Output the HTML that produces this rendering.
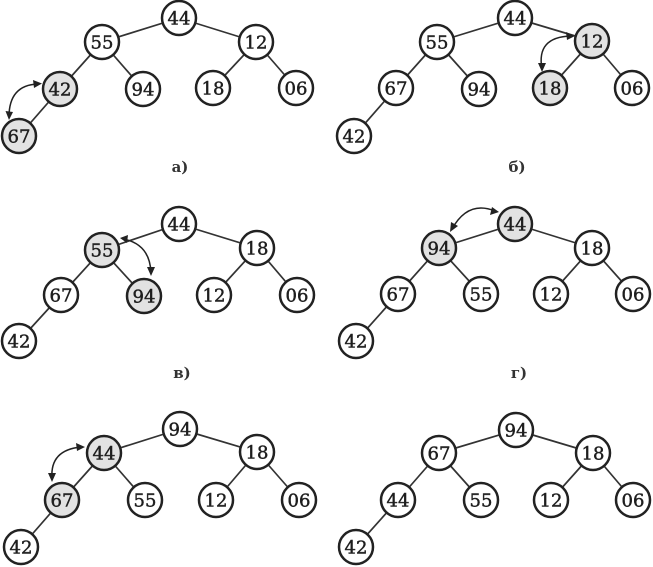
<!DOCTYPE html>
<html><head><meta charset="utf-8"><style>
html,body{margin:0;padding:0;background:#fff;width:653px;height:567px;overflow:hidden}
svg{display:block;filter:blur(.35px)}
line{stroke:#333;stroke-width:1.7}
circle{stroke:#222;stroke-width:2.5;fill:#fff}
circle.g{fill:#e2e2e2}
text{font-family:"DejaVu Serif","Liberation Serif",serif;font-size:18px;fill:#1e1e1e;text-anchor:middle;font-weight:normal;stroke:#1e1e1e;stroke-width:.45}
text.l{font-size:15px;font-weight:bold;stroke:none;fill:#333}
path.a{fill:none;stroke:#222;stroke-width:1.5}
path.h{fill:#222;stroke:none}
</style></head><body>
<svg width="653" height="567" viewBox="0 0 653 567" xmlns="http://www.w3.org/2000/svg">
<!-- a -->
<g>
<line x1="179" y1="18" x2="102" y2="42"/><line x1="179" y1="18" x2="256" y2="42"/><line x1="102" y1="42" x2="60" y2="89"/><line x1="102" y1="42" x2="143" y2="89"/><line x1="256" y1="42" x2="213" y2="88"/><line x1="256" y1="42" x2="296" y2="88"/><line x1="60" y1="89" x2="19" y2="136"/>
<circle cx="179" cy="18" r="17"/><text x="179" y="24.500">44</text>
<circle cx="102" cy="42" r="17"/><text x="102" y="48.500">55</text>
<circle cx="256" cy="42" r="17"/><text x="256" y="48.500">12</text>
<circle class="g" cx="60" cy="89" r="17"/><text x="60" y="95.500">42</text>
<circle cx="143" cy="89" r="17"/><text x="143" y="95.500">94</text>
<circle cx="213" cy="88" r="17"/><text x="213" y="94.500">18</text>
<circle cx="296" cy="88" r="17"/><text x="296" y="94.500">06</text>
<circle class="g" cx="19" cy="136" r="17"/><text x="19" y="142.500">67</text>
<path class="a" d="M38 84 Q9 85 9 117"/>
<path class="h" d="M42 83.500 L33 80 L34 88Z M9 120 L5.500 111 L13 112Z"/>
<text class="l" x="180" y="172">а)</text>
</g>
<!-- b -->
<g>
<line x1="515" y1="18" x2="437" y2="42"/><line x1="515" y1="18" x2="592" y2="41"/><line x1="437" y1="42" x2="396" y2="88"/><line x1="437" y1="42" x2="479" y2="89"/><line x1="592" y1="41" x2="550" y2="88"/><line x1="592" y1="41" x2="632" y2="88"/><line x1="396" y1="88" x2="354" y2="136"/>
<circle cx="515" cy="18" r="17"/><text x="515" y="24.500">44</text>
<circle cx="437" cy="42" r="17"/><text x="437" y="48.500">55</text>
<circle class="g" cx="592" cy="41" r="17"/><text x="592" y="47.500">12</text>
<circle cx="396" cy="88" r="17"/><text x="396" y="94.500">67</text>
<circle cx="479" cy="89" r="17"/><text x="479" y="95.500">94</text>
<circle class="g" cx="550" cy="88" r="17"/><text x="550" y="94.500">18</text>
<circle cx="632" cy="88" r="17"/><text x="632" y="94.500">06</text>
<circle cx="354" cy="136" r="17"/><text x="354" y="142.500">42</text>
<path class="a" d="M571 36 Q536 37 542 69"/>
<path class="h" d="M575 36 L566 32 L567 40Z M542 72 L538 63 L546 63Z"/>
<text class="l" x="517" y="172">б)</text>
</g>
<!-- v -->
<g>
<line x1="179" y1="224" x2="102" y2="250"/><line x1="179" y1="224" x2="257" y2="248"/><line x1="102" y1="250" x2="61" y2="295"/><line x1="102" y1="250" x2="144" y2="296"/><line x1="257" y1="248" x2="214" y2="295"/><line x1="257" y1="248" x2="297" y2="295"/><line x1="61" y1="295" x2="19" y2="341"/>
<circle cx="179" cy="224" r="17"/><text x="179" y="230.500">44</text>
<circle class="g" cx="102" cy="250" r="17"/><text x="102" y="256.500">55</text>
<circle cx="257" cy="248" r="17"/><text x="257" y="254.500">18</text>
<circle cx="61" cy="295" r="17"/><text x="61" y="301.500">67</text>
<circle class="g" cx="144" cy="296" r="17"/><text x="144" y="302.500">94</text>
<circle cx="214" cy="295" r="17"/><text x="214" y="301.500">12</text>
<circle cx="297" cy="295" r="17"/><text x="297" y="301.500">06</text>
<circle cx="19" cy="341" r="17"/><text x="19" y="347.500">42</text>
<path class="a" d="M123 239 Q150 244 151 273"/>
<path class="h" d="M120 238 L128 235 L127 243Z M151 276 L147 267 L155 267Z"/>
<text class="l" x="182" y="378">в)</text>
</g>
<!-- g -->
<g>
<line x1="515" y1="224" x2="439" y2="248"/><line x1="515" y1="224" x2="592" y2="248"/><line x1="439" y1="248" x2="398" y2="294"/><line x1="439" y1="248" x2="481" y2="294"/><line x1="592" y1="248" x2="551" y2="294"/><line x1="592" y1="248" x2="633" y2="294"/><line x1="398" y1="294" x2="356" y2="341"/>
<circle class="g" cx="515" cy="224" r="17"/><text x="515" y="230.500">44</text>
<circle class="g" cx="439" cy="248" r="17"/><text x="439" y="254.500">94</text>
<circle cx="592" cy="248" r="17"/><text x="592" y="254.500">18</text>
<circle cx="398" cy="294" r="17"/><text x="398" y="300.500">67</text>
<circle cx="481" cy="294" r="17"/><text x="481" y="300.500">55</text>
<circle cx="551" cy="294" r="17"/><text x="551" y="300.500">12</text>
<circle cx="633" cy="294" r="17"/><text x="633" y="300.500">06</text>
<circle cx="356" cy="341" r="17"/><text x="356" y="347.500">42</text>
<path class="a" d="M495 211 Q468 200 452 229"/>
<path class="h" d="M499 212 L490 215 L492 207Z M450 232 L451 222 L458 226Z"/>
<text class="l" x="519" y="378">г)</text>
</g>
<!-- d -->
<g>
<line x1="180" y1="429" x2="104" y2="453"/><line x1="180" y1="429" x2="257" y2="452"/><line x1="104" y1="453" x2="62" y2="500"/><line x1="104" y1="453" x2="145" y2="500"/><line x1="257" y1="452" x2="216" y2="500"/><line x1="257" y1="452" x2="299" y2="500"/><line x1="62" y1="500" x2="21" y2="547"/>
<circle cx="180" cy="429" r="17"/><text x="180" y="435.500">94</text>
<circle class="g" cx="104" cy="453" r="17"/><text x="104" y="459.500">44</text>
<circle cx="257" cy="452" r="17"/><text x="257" y="458.500">18</text>
<circle class="g" cx="62" cy="500" r="17"/><text x="62" y="506.500">67</text>
<circle cx="145" cy="500" r="17"/><text x="145" y="506.500">55</text>
<circle cx="216" cy="500" r="17"/><text x="216" y="506.500">12</text>
<circle cx="299" cy="500" r="17"/><text x="299" y="506.500">06</text>
<circle cx="21" cy="547" r="17"/><text x="21" y="553.500">42</text>
<path class="a" d="M81 447 Q50 450 52 478"/>
<path class="h" d="M85 447 L76 443 L77 451Z M52 482 L48 473 L56 473Z"/>
</g>
<!-- e -->
<g>
<line x1="516" y1="430" x2="439" y2="453"/><line x1="516" y1="430" x2="593" y2="453"/><line x1="439" y1="453" x2="398" y2="500"/><line x1="439" y1="453" x2="481" y2="500"/><line x1="593" y1="453" x2="551" y2="500"/><line x1="593" y1="453" x2="633" y2="500"/><line x1="398" y1="500" x2="356" y2="547"/>
<circle cx="516" cy="430" r="17"/><text x="516" y="436.500">94</text>
<circle cx="439" cy="453" r="17"/><text x="439" y="459.500">67</text>
<circle cx="593" cy="453" r="17"/><text x="593" y="459.500">18</text>
<circle cx="398" cy="500" r="17"/><text x="398" y="506.500">44</text>
<circle cx="481" cy="500" r="17"/><text x="481" y="506.500">55</text>
<circle cx="551" cy="500" r="17"/><text x="551" y="506.500">12</text>
<circle cx="633" cy="500" r="17"/><text x="633" y="506.500">06</text>
<circle cx="356" cy="547" r="17"/><text x="356" y="553.500">42</text>
</g>
</svg>
</body></html>
